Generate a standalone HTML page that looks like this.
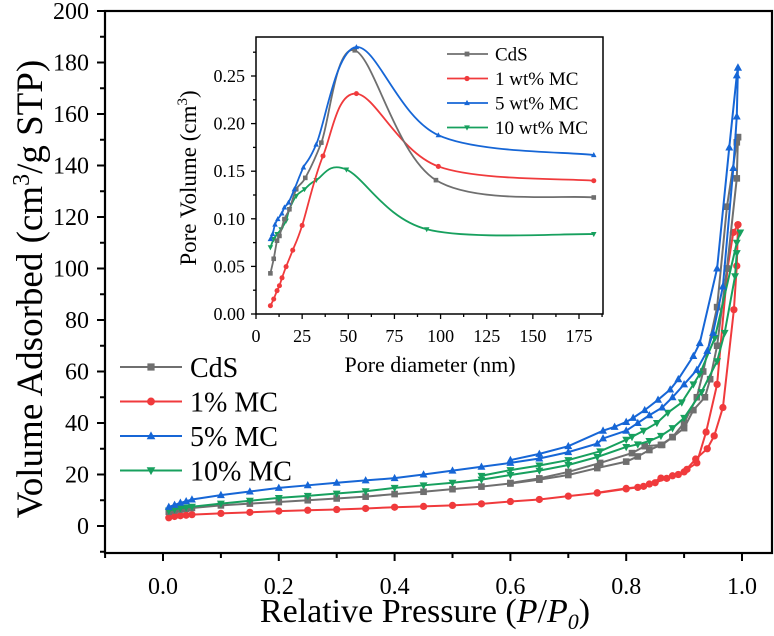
<!DOCTYPE html>
<html><head><meta charset="utf-8"><style>
html,body{margin:0;padding:0;background:#fff;}
svg{display:block;font-family:"Liberation Serif",serif;}
</style></head><body>
<svg id="chart" width="774" height="636" viewBox="0 0 774 636" xmlns="http://www.w3.org/2000/svg">
<g id="main"></g><g id="inset"></g>
</svg>
<script>
// ---------- Main chart data (isotherms) ----------
const seriesNames = ["CdS","1% MC","5% MC","10% MC"];
const cdsAdsP = [0.01,0.02,0.03,0.04,0.05,0.1,0.15,0.2,0.25,0.3,0.35,0.4,0.45,0.5,0.55,0.6,0.65,0.7,0.75,0.8,0.82,0.84,0.86,0.88,0.9,0.916,0.936,0.945,0.957,0.974,0.991,0.993];
const cdsAdsV = [5.5,6.0,6.4,6.7,7.0,8.0,8.7,9.3,10,10.7,11.4,12.4,13.3,14.3,15.3,16.5,18,19.8,22.5,25,27,29.5,31.5,34.5,38,45,50,57,70,100,135,151];
const cdsDesP = [0.993,0.991,0.974,0.957,0.933,0.922,0.9,0.88,0.862,0.832,0.81,0.755,0.7,0.65,0.6];
const cdsDesV = [151,149,124,85,60,50,40,34.5,31.5,31,28.3,24.5,21,18.5,16.7];
const redAdsP = [0.01,0.02,0.03,0.04,0.05,0.1,0.15,0.2,0.25,0.3,0.35,0.4,0.45,0.5,0.55,0.6,0.65,0.7,0.75,0.8,0.82,0.84,0.86,0.88,0.9,0.92,0.94,0.952,0.967,0.986,0.991,0.993];
const redAdsV = [3.2,3.7,4.0,4.2,4.4,4.9,5.3,5.8,6.1,6.4,6.8,7.3,7.6,8.0,8.6,9.5,10.3,11.6,12.8,14.4,15,16.3,18.6,19.5,21,26,30,35,46,84,101,117];
const redDesP = [0.993,0.985,0.975,0.957,0.938,0.922,0.905,0.89,0.87,0.85,0.83,0.8,0.75];
const redDesV = [117,114,100,55,36.5,24.5,22,20,18.5,16.8,15.4,14.6,12.9];
const bluAdsP = [0.01,0.02,0.03,0.04,0.05,0.1,0.15,0.2,0.25,0.3,0.35,0.4,0.45,0.5,0.55,0.6,0.65,0.7,0.75,0.76,0.8,0.82,0.84,0.862,0.88,0.9,0.922,0.94,0.95,0.967,0.985,0.991,0.993];
const bluAdsV = [7.4,8.2,9.0,9.6,10.3,12,13.4,14.8,15.8,16.8,17.7,18.6,20,21.5,23,24.5,26.2,28.7,32,34,37,40,43,46,50,55,60.6,68,75,93,139,159,178];
const bluDesP = [0.993,0.991,0.978,0.957,0.927,0.916,0.89,0.876,0.855,0.832,0.812,0.8,0.78,0.76,0.7,0.65,0.6];
const bluDesV = [178,175,147,100,71,66,57,53,49,45,42,40.4,38.5,37,31,28,25.6];
const grnAdsP = [0.01,0.02,0.03,0.04,0.05,0.1,0.15,0.2,0.25,0.3,0.35,0.4,0.45,0.5,0.55,0.6,0.65,0.7,0.75,0.8,0.82,0.84,0.86,0.88,0.9,0.93,0.957,0.97,0.988,0.991];
const grnAdsV = [6.0,6.5,6.9,7.2,7.5,8.7,9.8,10.9,11.7,12.6,13.5,14.8,15.8,16.8,18,19.8,21.5,23.7,26.8,30.7,31.7,33,35,38,42,52,64,75,97,106];
const grnDesP = [0.997,0.991,0.953,0.927,0.916,0.896,0.872,0.853,0.83,0.81,0.8,0.755,0.7,0.65,0.6,0.55];
const grnDesV = [114,110,73,59,55,48,44,40,37,34.6,33.5,29,25.6,23.5,21.7,19.5];
const xTicks = ["0.0","0.2","0.4","0.6","0.8","1.0"];
const yTicks = ["0","20","40","60","80","100","120","140","160","180","200"];
// ---------- Inset data (pore size distribution) ----------
const insetNames = ["CdS","1 wt% MC","5 wt% MC","10 wt% MC"];
const cdsD = [7.8,9.6,11.4,12.7,15.4,18.1,21.8,26.7,35.4,53.5,97.5,183];
const cdsPV = [0.0427,0.058,0.077,0.082,0.0997,0.110,0.131,0.143,0.180,0.277,0.1406,0.1224];
const redD = [7.8,9.6,11.4,12.7,14.1,16.3,19.9,25,36.3,54.4,98.8,183];
const redPV = [0.0087,0.0157,0.0245,0.0297,0.038,0.0497,0.067,0.093,0.166,0.2315,0.155,0.140];
const bluD = [7.8,9,10.3,11.8,14,15.4,17.6,20.8,25.7,32.6,54.4,98.8,183];
const bluPV = [0.0787,0.084,0.094,0.0997,0.1056,0.112,0.117,0.131,0.154,0.178,0.2804,0.1878,0.167];
const grnD = [7.8,9.6,11.4,13.6,16.3,18.1,21.8,26.3,32.6,49,92.5,183];
const grnPV = [0.070,0.0787,0.084,0.089,0.098,0.110,0.124,0.131,0.1406,0.1517,0.089,0.0839];
const insetXTicks = ["0","25","50","75","100","125","150","175"];
const insetYTicks = ["0.00","0.05","0.10","0.15","0.20","0.25"];

const NS="http://www.w3.org/2000/svg";
const colors=["#6f6f6f","#f03a3c","#1666d6","#17a05e"];
function mk(tag,parent,attrs){const e=document.createElementNS(NS,tag);for(const k in attrs)e.setAttribute(k,attrs[k]);parent.appendChild(e);return e;}

const M={l:105,r:772,t:11,b:553};
const sx=p=>163+p*579;
const sy=v=>526-v*2.575;
const main=document.getElementById('main');

function marker(g,shape,x,y,s,c){
  let e;
  if(shape===0){e=mk('rect',g,{x:x-s,y:y-s,width:2*s,height:2*s,fill:c});}
  else if(shape===1){e=mk('circle',g,{cx:x,cy:y,r:s*1.1,fill:c});}
  else if(shape===2){e=mk('polygon',g,{points:`${x},${y-s*1.3} ${x-s*1.2},${y+s*0.9} ${x+s*1.2},${y+s*0.9}`,fill:c});}
  else {e=mk('polygon',g,{points:`${x},${y+s*1.3} ${x-s*1.2},${y-s*0.9} ${x+s*1.2},${y-s*0.9}`,fill:c});}
  return e;
}
const mainSeries=[[cdsAdsP,cdsAdsV,cdsDesP,cdsDesV],[redAdsP,redAdsV,redDesP,redDesV],[bluAdsP,bluAdsV,bluDesP,bluDesV],[grnAdsP,grnAdsV,grnDesP,grnDesV]];
const order=[1,0,3,2];
order.forEach(i=>{
  const g=mk('g',main,{});
  
  
  const s=mainSeries[i];
  for(let b=0;b<2;b++){
    const P=s[b*2],V=s[b*2+1];
    const pl=mk('polyline',g,{points:P.map((p,k)=>sx(p)+','+sy(V[k])).join(' '),fill:'none',stroke:colors[i],'stroke-width':2});
    
    
    P.forEach((p,k)=>{const m=marker(g,i,sx(p),sy(V[k]),3.3,colors[i]);
      
      });
  }
});
const fr=mk('rect',main,{x:M.l,y:M.t,width:M.r-M.l,height:M.b-M.t,fill:'none',stroke:'#000','stroke-width':2.2});


for(let v=-10;v<=200;v+=10){
  const y=sy(v); if(y>M.b-1)continue;
  const major=v%20===0;
  mk('line',main,{x1:M.l,x2:M.l-(major?8:5),y1:y,y2:y,stroke:'#000','stroke-width':2});
}
yTicks.forEach((t,k)=>{const e=mk('text',main,{x:89,y:sy(+t)+8,'text-anchor':'end','font-size':24});e.textContent=t;
  
  });
for(let p=-0.1;p<=1.051;p+=0.1){
  const x=sx(p); const major=Math.round(p*10)%2===0;
  mk('line',main,{x1:x,x2:x,y1:M.b,y2:M.b+(major?8:5),stroke:'#000','stroke-width':2});
}
xTicks.forEach(t=>{const e=mk('text',main,{x:sx(+t),y:594,'text-anchor':'middle','font-size':24});e.textContent=t;
  
  });
let yt=mk('text',main,{x:0,y:0,transform:'translate(42,289) rotate(-90)','text-anchor':'middle','font-size':37});
yt.innerHTML='Volume Adsorbed (cm<tspan dy="-13" font-size="24">3</tspan><tspan dy="13">/g STP)</tspan>';


let xt=mk('text',main,{x:425,y:622,'text-anchor':'middle','font-size':34});
xt.innerHTML='Relative Pressure (<tspan font-style="italic">P</tspan>/<tspan font-style="italic">P</tspan><tspan font-style="italic" font-size="22" dy="7">0</tspan><tspan dy="-7">)</tspan>';


const lg=mk('g',main,{});


seriesNames.forEach((n,i)=>{
  const y=367+i*34.5;
  const ge=mk('g',lg,{});
  
  
  mk('line',ge,{x1:120,x2:182,y1:y,y2:y,stroke:colors[i],'stroke-width':2});
  marker(ge,i,151,y,3.6,colors[i]);
  const t=mk('text',ge,{x:190,y:y+10,'font-size':28});t.textContent=n;
});

// ---------- inset ----------
const I={l:256,r:603,t:37,b:314};
const ix=d=>256+d*(323/175);
const iy=v=>314-v*952;
const inset=document.getElementById('inset');


mk('rect',inset,{x:I.l,y:I.t,width:I.r-I.l,height:I.b-I.t,fill:'#fff',stroke:'none'});
function smooth(pts){
  let d='M'+pts[0][0]+','+pts[0][1];
  for(let k=0;k<pts.length-1;k++){
    const p0=pts[k-1]||pts[k],p1=pts[k],p2=pts[k+1],p3=pts[k+2]||p2;
    const t=6;
    const c1=[p1[0]+(p2[0]-p0[0])/t,p1[1]+(p2[1]-p0[1])/t];
    const c2=[p2[0]-(p3[0]-p1[0])/t,p2[1]-(p3[1]-p1[1])/t];
    d+=` C${c1[0]},${c1[1]} ${c2[0]},${c2[1]} ${p2[0]},${p2[1]}`;
  }
  return d;
}
const insetSeries=[[cdsD,cdsPV],[redD,redPV],[bluD,bluPV],[grnD,grnPV]];
[3,1,0,2].forEach(i=>{
  const g=mk('g',inset,{});
  
  
  const [D,V]=insetSeries[i];
  const pts=D.map((d,k)=>[ix(d),iy(V[k])]);
  mk('path',g,{d:smooth(pts),fill:'none',stroke:colors[i],'stroke-width':1.8});
  pts.forEach(p=>{const m=marker(g,i,p[0],p[1],2.3,colors[i]);
    
    });
});
const ifr=mk('rect',inset,{x:I.l,y:I.t,width:I.r-I.l,height:I.b-I.t,fill:'none',stroke:'#000','stroke-width':1.5});


for(let v=0;v<=0.2876;v+=0.025){
  const y=iy(v);const major=Math.round(v*40)%2===0;
  mk('line',inset,{x1:I.l,x2:I.l-(major?5:3),y1:y,y2:y,stroke:'#000','stroke-width':1.3});
}
insetYTicks.forEach(t=>{const e=mk('text',inset,{x:245,y:iy(+t)+6,'text-anchor':'end','font-size':18});e.textContent=t;
  
  });
for(let d=0;d<=187.5;d+=12.5){
  const x=ix(d);const major=Math.round(d/12.5)%2===0;
  mk('line',inset,{x1:x,x2:x,y1:I.b,y2:I.b+(major?5:3),stroke:'#000','stroke-width':1.3});
}
insetXTicks.forEach(t=>{const e=mk('text',inset,{x:ix(+t),y:342,'text-anchor':'middle','font-size':18});e.textContent=t;
  
  });
let ixt=mk('text',inset,{x:430,y:372,'text-anchor':'middle','font-size':22});
ixt.textContent='Pore diameter (nm)';


let iyt=mk('text',inset,{x:0,y:0,transform:'translate(196,178) rotate(-90)','text-anchor':'middle','font-size':23});
iyt.innerHTML='Pore Volume (cm<tspan dy="-9" font-size="15">3</tspan><tspan dy="9">)</tspan>';


const ilg=mk('g',inset,{});


insetNames.forEach((n,i)=>{
  const y=54+i*24.5;
  const ge=mk('g',ilg,{});
  
  
  mk('line',ge,{x1:447,x2:488,y1:y,y2:y,stroke:colors[i],'stroke-width':1.8});
  marker(ge,i,467,y,2.4,colors[i]);
  const t=mk('text',ge,{x:495,y:y+6.5,'font-size':19});t.textContent=n;
});
</script>
</body></html>
